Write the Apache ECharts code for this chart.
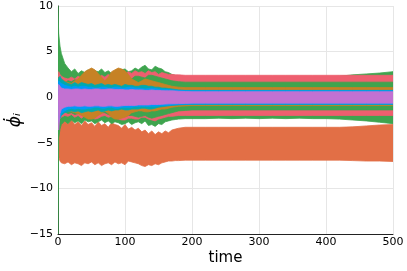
<!DOCTYPE html>
<html>
<head>
<meta charset="utf-8">
<script src="https://cdn.jsdelivr.net/npm/echarts@6/dist/echarts.min.js"></script>
<style>html,body{margin:0;padding:0;background:#fff}#c{width:407px;height:271px}</style>
</head>
<body>
<div id="c"></div>
<script>
// time samples: dense early part and coarser steady part
const timeEarly = [0,1,3,5,10,15,20,25,30,35,40,45,50,55,60,65,70,75,80,85,90,95,100,105,110,115,120,125,130,135,140,145,150,155,160,165,170,175,180];
const timeLate = [190,200,220,240,260,280,300,320,340,360,380,400,420,440,460,480,500];
const xTicks = [0,100,200,300,400,500];
const yTicks = [-15,-10,-5,0,5,10];

// envelopes (upper / lower) of each oscillating component
const orangeHiEarly = [-2.0,-2.2,-2.3,-2.5,-2.4,-2.9,-2.5,-3.0,-2.7,-3.1,-2.6,-3.0,-2.8,-3.2,-2.7,-3.1,-2.9,-3.3,-2.8,-3.0,-3.1,-3.4,-3.0,-3.5,-3.3,-3.6,-3.4,-3.8,-3.6,-4.0,-3.7,-4.1,-3.8,-4.0,-3.7,-3.9,-3.6,-3.5,-3.4];
const orangeHiLate = [-3.3,-3.3,-3.3,-3.3,-3.3,-3.3,-3.3,-3.3,-3.3,-3.3,-3.3,-3.3,-3.3,-3.25,-3.15,-3.05,-3.0];
const orangeLoEarly = [-3.0,-6.5,-7.0,-7.2,-7.3,-7.1,-7.4,-7.2,-7.3,-7.5,-7.2,-7.3,-7.1,-7.4,-7.2,-7.5,-7.3,-7.2,-7.4,-7.1,-7.3,-7.2,-7.4,-7.0,-7.1,-7.2,-7.3,-7.5,-7.6,-7.4,-7.5,-7.3,-7.4,-7.2,-7.1,-7.0,-7.0,-6.95,-6.95];
const orangeLoLate = [-6.9,-6.9,-6.9,-6.9,-6.9,-6.9,-6.9,-6.9,-6.9,-6.9,-6.9,-6.9,-6.9,-6.95,-7.0,-7.0,-7.05];

const greenOutHiEarly = [10,7.0,5.6,4.8,3.7,3.2,2.8,3.1,2.6,2.9,2.7,3.0,2.6,2.9,2.8,3.1,2.7,2.9,2.6,2.8,2.7,3.0,3.1,2.8,2.9,3.2,3.0,3.3,3.5,3.1,3.0,3.4,3.2,3.1,2.8,2.7,2.5,2.4,2.3];
const greenOutHiLate = [2.25,2.2,2.2,2.2,2.2,2.2,2.2,2.2,2.2,2.2,2.2,2.2,2.3,2.45,2.55,2.65,2.8];
const greenOutLoEarly = [-15,-4.5,-3.5,-3.0,-2.6,-2.9,-2.5,-2.8,-2.6,-2.9,-2.5,-2.7,-2.6,-2.9,-2.7,-2.5,-2.8,-2.6,-2.9,-2.7,-2.8,-3.0,-2.9,-2.7,-3.0,-2.8,-2.7,-2.9,-2.6,-3.1,-3.0,-3.2,-2.9,-3.0,-2.7,-2.6,-2.5,-2.45,-2.4];
const greenOutLoLate = [-2.35,-2.35,-2.35,-2.3,-2.35,-2.3,-2.35,-2.3,-2.35,-2.3,-2.35,-2.35,-2.4,-2.5,-2.6,-2.75,-2.9];

const pinkHiEarly = [1.0,2.8,2.5,2.3,2.1,2.0,2.2,2.0,2.3,2.1,2.4,2.2,2.0,2.3,2.1,2.4,2.2,2.5,2.2,2.4,2.3,2.6,2.5,2.8,2.6,2.9,2.7,2.8,2.6,2.9,2.7,2.8,2.5,2.7,2.6,2.5,2.5,2.45,2.45];
const pinkHiLate = [2.4,2.4,2.4,2.4,2.4,2.4,2.4,2.4,2.4,2.4,2.4,2.4,2.4,2.4,2.4,2.4,2.4];
const pinkLoEarly = [-1.0,-2.6,-2.3,-2.2,-2.0,-2.1,-1.9,-2.2,-2.0,-2.3,-2.0,-2.2,-2.1,-2.4,-2.3,-2.1,-2.0,-2.2,-2.1,-2.3,-2.4,-2.5,-2.5,-2.3,-2.3,-2.4,-2.4,-2.2,-2.2,-2.4,-2.5,-2.6,-2.4,-2.3,-2.2,-2.1,-2.1,-2.05,-2.0];
const pinkLoLate = [-2.0,-2.0,-2.0,-2.0,-2.0,-2.0,-2.0,-2.0,-2.0,-2.0,-2.0,-2.0,-2.0,-2.0,-2.0,-2.0,-2.0];

const greenInHiEarly = [0.5,2.2,2.0,1.8,1.6,1.8,1.7,1.9,1.8,2.0,1.6,1.8,1.7,2.0,1.9,1.8,1.7,2.0,1.9,2.1,2.0,2.2,2.2,2.1,2.0,2.3,2.3,2.2,2.1,2.4,2.4,2.3,2.2,2.1,2.0,1.9,1.8,1.75,1.7];
const greenInHiLate = [1.65,1.65,1.65,1.65,1.65,1.65,1.65,1.65,1.65,1.65,1.65,1.65,1.65,1.65,1.65,1.65,1.65];
const greenInLoEarly = [-0.5,-2.2,-2.0,-1.8,-1.6,-1.8,-1.7,-1.9,-1.8,-1.7,-1.6,-1.9,-1.9,-1.8,-1.8,-1.7,-1.7,-1.9,-2.0,-1.9,-1.9,-2.0,-2.1,-2.0,-2.0,-2.1,-2.2,-2.1,-2.0,-2.2,-2.3,-2.2,-2.1,-2.0,-1.9,-1.8,-1.7,-1.6,-1.5];
const greenInLoLate = [-1.45,-1.4,-1.4,-1.4,-1.4,-1.4,-1.4,-1.4,-1.4,-1.4,-1.4,-1.4,-1.4,-1.4,-1.4,-1.4,-1.4];

const brownHiEarly = [0,1.2,1.8,2.0,1.8,1.6,1.5,1.8,2.0,2.4,2.8,3.0,3.2,3.0,2.6,2.2,1.8,2.2,2.8,3.0,3.2,3.1,2.9,2.5,2.0,1.8,1.6,1.8,2.0,1.9,1.8,1.7,1.6,1.5,1.4,1.3,1.2,1.15,1.1];
const brownHiLate = [1.05,1.05,1.05,1.05,1.05,1.05,1.05,1.05,1.05,1.05,1.05,1.05,1.05,1.05,1.05,1.05,1.05];
const brownLoEarly = [0,-1.2,-1.6,-1.8,-1.5,-1.6,-1.6,-1.7,-1.8,-2.0,-2.2,-2.4,-2.4,-2.3,-2.0,-1.8,-1.5,-1.8,-2.2,-2.4,-2.4,-2.3,-2.2,-2.0,-1.7,-1.6,-1.5,-1.5,-1.6,-1.6,-1.5,-1.5,-1.4,-1.3,-1.3,-1.2,-1.1,-1.05,-1.0];
const brownLoLate = [-0.95,-0.9,-0.9,-0.9,-0.9,-0.9,-0.9,-0.9,-0.9,-0.9,-0.9,-0.9,-0.9,-0.9,-0.9,-0.9,-0.9];

const tealHiEarly = [0,2.0,2.3,2.0,1.7,1.5,1.4,1.6,1.4,1.6,1.5,1.4,1.5,1.3,1.4,1.5,1.3,1.4,1.3,1.4,1.3,1.2,1.4,1.3,1.3,1.2,1.2,1.3,1.3,1.2,1.2,1.1,1.1,1.0,1.0,0.95,0.9,0.85,0.8];
const tealHiLate = [0.75,0.75,0.75,0.75,0.75,0.75,0.75,0.75,0.75,0.75,0.75,0.75,0.75,0.75,0.75,0.75,0.75];
const tealLoEarly = [0,-2.0,-2.3,-2.0,-1.7,-1.6,-1.5,-1.6,-1.5,-1.7,-1.6,-1.5,-1.6,-1.5,-1.4,-1.6,-1.5,-1.4,-1.5,-1.4,-1.4,-1.3,-1.4,-1.4,-1.3,-1.3,-1.3,-1.2,-1.2,-1.3,-1.3,-1.2,-1.1,-1.05,-1.0,-0.95,-0.9,-0.87,-0.85];
const tealLoLate = [-0.8,-0.8,-0.8,-0.8,-0.8,-0.8,-0.8,-0.8,-0.8,-0.8,-0.8,-0.8,-0.8,-0.8,-0.8,-0.8,-0.8];

const blueHiEarly = [0,1.8,1.6,1.5,1.3,1.2,1.1,1.2,1.1,1.2,1.2,1.1,1.1,1.0,1.0,1.1,1.1,1.0,1.0,1.1,1.1,1.0,1.0,1.1,1.1,1.0,1.0,0.95,0.9,0.95,1.0,0.95,0.9,0.88,0.85,0.82,0.8,0.78,0.75];
const blueHiLate = [0.72,0.7,0.7,0.7,0.7,0.7,0.7,0.7,0.7,0.7,0.7,0.7,0.7,0.7,0.7,0.7,0.7];
const blueLoEarly = [0,-2.8,-2.2,-1.8,-1.5,-1.3,-1.2,-1.3,-1.2,-1.3,-1.3,-1.2,-1.2,-1.1,-1.1,-1.2,-1.2,-1.1,-1.1,-1.2,-1.2,-1.1,-1.1,-1.1,-1.1,-1.0,-1.0,-1.0,-1.0,-1.0,-1.0,-0.98,-0.95,-0.92,-0.9,-0.88,-0.85,-0.82,-0.8];
const blueLoLate = [-0.78,-0.75,-0.75,-0.75,-0.75,-0.75,-0.75,-0.75,-0.75,-0.75,-0.75,-0.75,-0.75,-0.75,-0.75,-0.75,-0.75];

const purpleHiEarly = [0,1.4,1.2,1.0,0.9,0.9,0.85,0.9,0.9,0.85,0.9,0.85,0.85,0.9,0.9,0.85,0.85,0.9,0.9,0.85,0.85,0.85,0.8,0.8,0.85,0.8,0.8,0.8,0.75,0.75,0.8,0.75,0.75,0.72,0.7,0.7,0.7,0.68,0.65];
const purpleHiLate = [0.62,0.6,0.6,0.6,0.6,0.6,0.6,0.6,0.6,0.6,0.6,0.6,0.6,0.6,0.6,0.6,0.6];
const purpleLoEarly = [0,-3.6,-1.8,-1.3,-1.1,-1.0,-1.0,-0.95,-1.0,-1.0,-0.95,-1.0,-1.0,-0.95,-0.95,-1.0,-1.0,-0.95,-0.95,-1.0,-1.0,-0.95,-0.9,-0.9,-0.9,-0.9,-0.85,-0.85,-0.85,-0.85,-0.8,-0.8,-0.8,-0.78,-0.75,-0.73,-0.72,-0.71,-0.7];
const purpleLoLate = [-0.68,-0.65,-0.65,-0.65,-0.65,-0.65,-0.65,-0.65,-0.65,-0.65,-0.65,-0.65,-0.65,-0.65,-0.65,-0.65,-0.65];

const T = timeEarly.concat(timeLate);
const bands = [
  ['orange', orangeHiEarly.concat(orangeHiLate), orangeLoEarly.concat(orangeLoLate), '#E26F46'],
  ['green1', greenOutHiEarly.concat(greenOutHiLate), greenOutLoEarly.concat(greenOutLoLate), '#3EA44E'],
  ['pink', pinkHiEarly.concat(pinkHiLate), pinkLoEarly.concat(pinkLoLate), '#EE5F6F'],
  ['green2', greenInHiEarly.concat(greenInHiLate), greenInLoEarly.concat(greenInLoLate), '#3EA44E'],
  ['brown', brownHiEarly.concat(brownHiLate), brownLoEarly.concat(brownLoLate), '#C68225'],
  ['teal', tealHiEarly.concat(tealHiLate), tealLoEarly.concat(tealLoLate), '#00A9AD'],
  ['blue', blueHiEarly.concat(blueHiLate), blueLoEarly.concat(blueLoLate), '#009AFA'],
  ['purple', purpleHiEarly.concat(purpleHiLate), purpleLoEarly.concat(purpleLoLate), '#C271D2']
];

function bandSeries(name, hi, lo, color) {
  const rows = T.map((t, i) => [t, lo[i], hi[i]]);
  return {
    type: 'custom', name: name, clip: true,
    encode: { x: 0, y: [1, 2] },
    data: rows,
    renderItem: function (params, api) {
      if (params.dataIndex !== 0) return null;
      const pts = [];
      for (let i = 0; i < rows.length; i++) pts.push(api.coord([rows[i][0], rows[i][2]]));
      for (let i = rows.length - 1; i >= 0; i--) pts.push(api.coord([rows[i][0], rows[i][1]]));
      return { type: 'polygon', shape: { points: pts }, style: { fill: color, stroke: color, lineWidth: 0.8 } };
    }
  };
}

const chart = echarts.init(document.getElementById('c'), null, { renderer: 'canvas' });
const font = 'DejaVu Sans';
chart.setOption({
  animation: false,
  backgroundColor: '#fff',
  grid: { left: 58, top: 6, right: 14, bottom: 37, containLabel: false, outerBoundsMode: 'none' },
  xAxis: {
    type: 'value', min: xTicks[0], max: xTicks[xTicks.length - 1], interval: 100,
    name: 'time', nameLocation: 'middle', nameGap: 17, nameMoveOverlap: false,
    nameTextStyle: { fontFamily: font, fontSize: 15, color: '#000' },
    axisLine: { show: true, onZero: false, lineStyle: { color: '#222', width: 1 } },
    axisTick: { show: false },
    axisLabel: { fontFamily: font, fontSize: 11, color: '#000', margin: 3 },
    splitLine: { show: true, lineStyle: { color: '#e6e6e6', width: 1 } }
  },
  yAxis: {
    type: 'value', min: yTicks[0], max: yTicks[yTicks.length - 1], interval: 5,
    name: 'ϕ̇ᵢ', nameLocation: 'middle', nameGap: 34, nameRotate: 90, nameMoveOverlap: false,
    nameTextStyle: { fontFamily: font, fontSize: 17, fontStyle: 'italic', color: '#000' },
    axisLine: { show: true, onZero: false, lineStyle: { color: '#222', width: 1 } },
    axisTick: { show: false },
    axisLabel: { fontFamily: font, fontSize: 11, color: '#000', margin: 5,
      formatter: v => String(v).replace('-', '\u2212') },
    splitLine: { show: true, lineStyle: { color: '#e6e6e6', width: 1 } }
  },
  series: bands.map(b => bandSeries(b[0], b[1], b[2], b[3]))
});
</script>
</body>
</html>
